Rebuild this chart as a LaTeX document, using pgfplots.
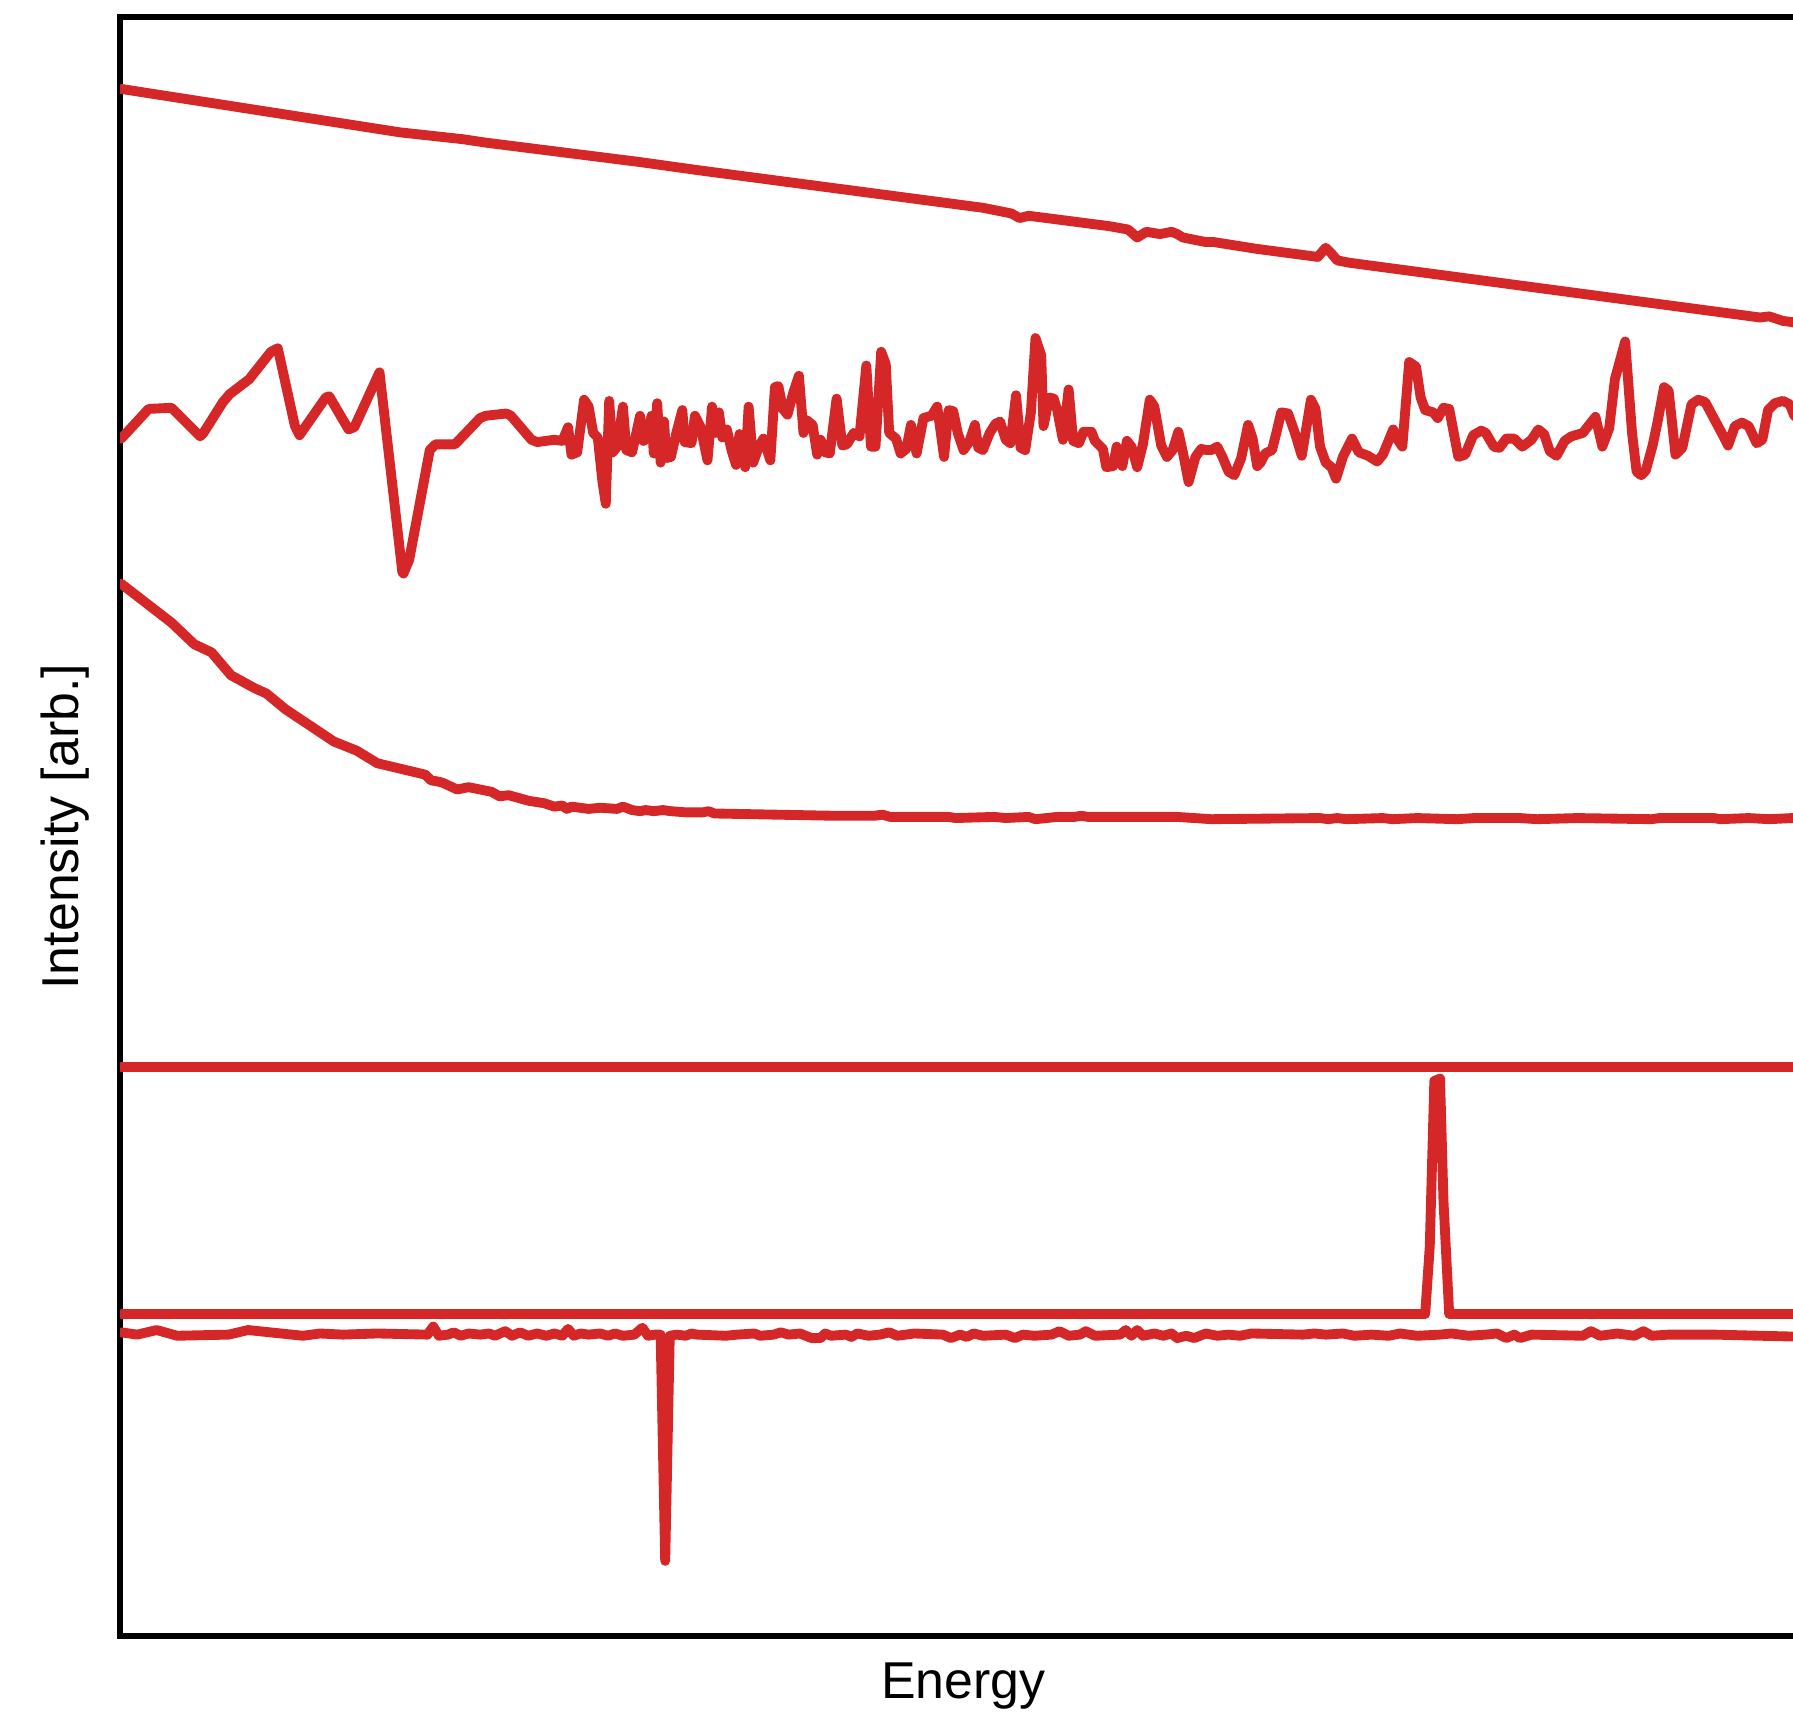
\documentclass[border=0pt]{standalone}
\usepackage{pgfplots}
\pgfplotsset{compat=1.18}
\usepackage{fontspec}
\setmainfont{Liberation Sans}
\definecolor{tabred}{HTML}{D62728}

\begin{document}
\begin{tikzpicture}[sig/.style={tabred, mark=none, line width=2.45pt, line join=round, line cap=round}]
\useasboundingbox (0,0) rectangle (15.68,15.05);
\clip (0,0) rectangle (15.68,15.05);
\begin{axis}[
    at={(1.05cm,0.74cm)}, anchor=south west,
    x=0.01cm, y=0.01cm,
    xmin=105, xmax=1581, ymin=-1431, ymax=-14,
    xtick=\empty, ytick=\empty,
    axis line style={line width=1.5pt, black},
    xlabel={Energy}, ylabel={Intensity [arb.]},
    label style={font=\fontsize{12.9}{15}\selectfont},
    xlabel style={at={(axis description cs:0.5,-0.031)}, anchor=center},
    ylabel style={at={(axis description cs:-0.0326,0.5)}, anchor=center},
]
% top: slowly falling line
\addplot[sig] coordinates {(106,-77) (350,-115) (405,-121) (425,-124) (560,-141) (610,-148) (860,-181) (885,-186) (892,-190) (900,-188) (970,-197) (987,-200) (995,-207) (1003,-202) (1015,-204) (1025,-202) (1030,-204) (1035,-207) (1055,-211) (1062,-211) (1100,-217) (1153,-224) (1160,-216) (1165,-221) (1170,-227) (1180,-229) (1540,-277) (1548,-276) (1560,-280) (1568,-281) (1581,-284)};
% noisy signal
\addplot[sig] coordinates {(106,-383) (130,-357) (150,-356) (160,-366) (175,-381) (178,-378) (195,-351) (201,-344) (218,-331) (237,-307) (243,-304) (258,-372) (262,-380) (285,-347) (288,-346) (305,-375) (310,-373) (332,-325) (352,-500) (353,-501) (358,-489) (376,-393) (381,-388) (398,-388) (420,-365) (425,-363) (443,-361) (447,-363) (465,-384) (470,-386) (485,-384) (492,-385) (497,-373) (500,-397) (505,-395) (511,-349) (515,-355) (519,-378) (523,-382) (527,-420) (530,-440) (533,-350) (536,-395) (540,-390) (545,-355) (548,-393) (553,-395) (560,-363) (563,-385) (567,-382) (570,-363) (572,-396) (575,-352) (578,-404) (581,-368) (583,-400) (587,-399) (592,-377) (597,-358) (599,-386) (605,-387) (608,-363) (613,-373) (619,-402) (623,-355) (626,-378) (629,-360) (632,-382) (636,-375) (640,-393) (644,-406) (647,-379) (652,-408) (655,-355) (659,-404) (664,-390) (668,-383) (674,-402) (678,-338) (681,-337) (685,-357) (689,-362) (694,-343) (699,-328) (703,-378) (706,-367) (711,-371) (715,-397) (718,-384) (722,-395) (726,-396) (732,-348) (737,-389) (741,-388) (747,-378) (752,-381) (758,-319) (762,-390) (766,-390) (771,-307) (775,-318) (778,-378) (784,-383) (788,-396) (793,-392) (797,-371) (802,-396) (808,-365) (815,-363) (820,-355) (826,-399) (830,-358) (834,-359) (838,-378) (843,-393) (848,-386) (853,-371) (856,-391) (860,-393) (866,-378) (871,-370) (875,-368) (880,-384) (884,-387) (889,-345) (893,-391) (897,-393) (902,-360) (906,-295) (911,-310) (913,-372) (918,-347) (922,-348) (925,-358) (930,-384) (935,-340) (939,-385) (944,-387) (948,-377) (955,-377) (958,-385) (965,-392) (968,-408) (974,-407) (977,-390) (982,-407) (986,-385) (990,-390) (995,-408) (1000,-388) (1006,-349) (1010,-355) (1016,-389) (1021,-399) (1026,-393) (1031,-377) (1035,-395) (1040,-421) (1046,-399) (1051,-392) (1056,-393) (1060,-393) (1065,-390) (1070,-400) (1075,-412) (1080,-415) (1086,-400) (1092,-371) (1096,-383) (1100,-407) (1103,-404) (1107,-396) (1113,-393) (1117,-377) (1121,-360) (1127,-361) (1133,-378) (1139,-398) (1147,-349) (1151,-357) (1155,-390) (1160,-404) (1165,-408) (1169,-418) (1175,-399) (1183,-383) (1189,-395) (1197,-398) (1205,-403) (1210,-397) (1219,-375) (1223,-384) (1227,-390) (1233,-316) (1239,-320) (1243,-347) (1247,-358) (1254,-360) (1258,-365) (1263,-356) (1268,-357) (1276,-399) (1282,-397) (1289,-380) (1296,-376) (1300,-378) (1307,-390) (1312,-391) (1318,-383) (1325,-383) (1332,-390) (1340,-384) (1346,-375) (1351,-379) (1356,-394) (1362,-398) (1369,-385) (1375,-381) (1385,-378) (1392,-369) (1396,-364) (1402,-390) (1408,-374) (1413,-331) (1422,-298) (1428,-378) (1432,-412) (1436,-415) (1440,-411) (1446,-389) (1450,-370) (1456,-338) (1460,-341) (1466,-397) (1472,-391) (1476,-372) (1480,-353) (1486,-349) (1492,-351) (1500,-366) (1508,-381) (1512,-389) (1518,-372) (1524,-369) (1530,-372) (1537,-387) (1542,-384) (1547,-358) (1553,-352) (1560,-350) (1566,-353) (1570,-363) (1581,-370)};
% decaying curve
\addplot[sig] coordinates {(106,-510) (150,-544) (170,-563) (185,-570) (202,-590) (222,-601) (233,-606) (250,-620) (292,-648) (312,-656) (330,-667) (372,-677) (377,-682) (383,-683) (387,-684) (400,-690) (410,-688) (430,-692) (437,-696) (445,-695) (463,-700) (476,-702) (485,-705) (492,-704) (496,-707) (500,-705) (515,-707) (525,-706) (540,-707) (545,-705) (553,-708) (560,-709) (565,-708) (572,-709) (580,-708) (587,-709) (600,-710) (615,-710) (620,-709) (625,-711) (730,-713) (765,-713) (772,-712) (779,-714) (830,-714) (836,-715) (870,-714) (880,-715) (900,-714) (906,-716) (925,-714) (940,-714) (946,-713) (952,-714) (1030,-714) (1060,-716) (1155,-715) (1162,-716) (1170,-715) (1178,-716) (1210,-715) (1218,-716) (1240,-715) (1275,-716) (1290,-715) (1330,-715) (1345,-716) (1380,-715) (1445,-716) (1452,-715) (1500,-715) (1505,-716) (1530,-715) (1548,-716) (1568,-715) (1581,-714)};
% flat line
\addplot[sig] coordinates {(106,-933) (1581,-933)};
% flat line with a single spike
\addplot[sig] coordinates {(106,-1149) (1247,-1149) (1251,-1090) (1255,-945) (1260,-943) (1263,-1050) (1268,-1149) (1581,-1149)};
% bottom line with a single dip
\addplot[sig] coordinates {(106,-1165) (120,-1167) (137,-1163) (155,-1168) (200,-1167) (217,-1163) (265,-1168) (280,-1166) (300,-1167) (330,-1166) (374,-1167) (379,-1160) (384,-1168) (392,-1167) (397,-1165) (403,-1168) (410,-1166) (420,-1167) (428,-1166) (433,-1168) (442,-1164) (448,-1168) (455,-1165) (462,-1168) (470,-1166) (478,-1168) (485,-1166) (492,-1168) (497,-1162) (502,-1168) (508,-1166) (515,-1167) (525,-1166) (532,-1168) (538,-1166) (545,-1168) (555,-1167) (562,-1161) (567,-1168) (573,-1167) (578,-1167) (582,-1365) (586,-1168) (592,-1167) (600,-1168) (605,-1166) (610,-1167) (635,-1168) (645,-1167) (660,-1166) (665,-1168) (677,-1167) (683,-1165) (690,-1167) (700,-1166) (710,-1170) (718,-1170) (722,-1166) (727,-1168) (740,-1167) (745,-1169) (750,-1166) (760,-1168) (770,-1167) (778,-1165) (785,-1168) (800,-1166) (825,-1167) (832,-1170) (840,-1167) (846,-1169) (852,-1166) (860,-1168) (880,-1167) (888,-1170) (895,-1167) (905,-1168) (920,-1167) (927,-1164) (935,-1168) (945,-1167) (950,-1164) (958,-1168) (980,-1167) (985,-1163) (990,-1168) (995,-1163) (1000,-1168) (1010,-1166) (1018,-1168) (1025,-1166) (1030,-1170) (1038,-1168) (1045,-1170) (1055,-1166) (1065,-1168) (1075,-1167) (1085,-1168) (1095,-1166) (1140,-1167) (1150,-1166) (1160,-1167) (1175,-1166) (1185,-1168) (1200,-1167) (1215,-1168) (1225,-1166) (1240,-1168) (1260,-1167) (1270,-1166) (1285,-1168) (1300,-1167) (1310,-1166) (1318,-1170) (1325,-1167) (1330,-1170) (1340,-1167) (1385,-1168) (1392,-1164) (1400,-1168) (1415,-1166) (1430,-1168) (1438,-1164) (1445,-1168) (1460,-1167) (1500,-1167) (1581,-1169)};
\end{axis}
\end{tikzpicture}
\end{document}
